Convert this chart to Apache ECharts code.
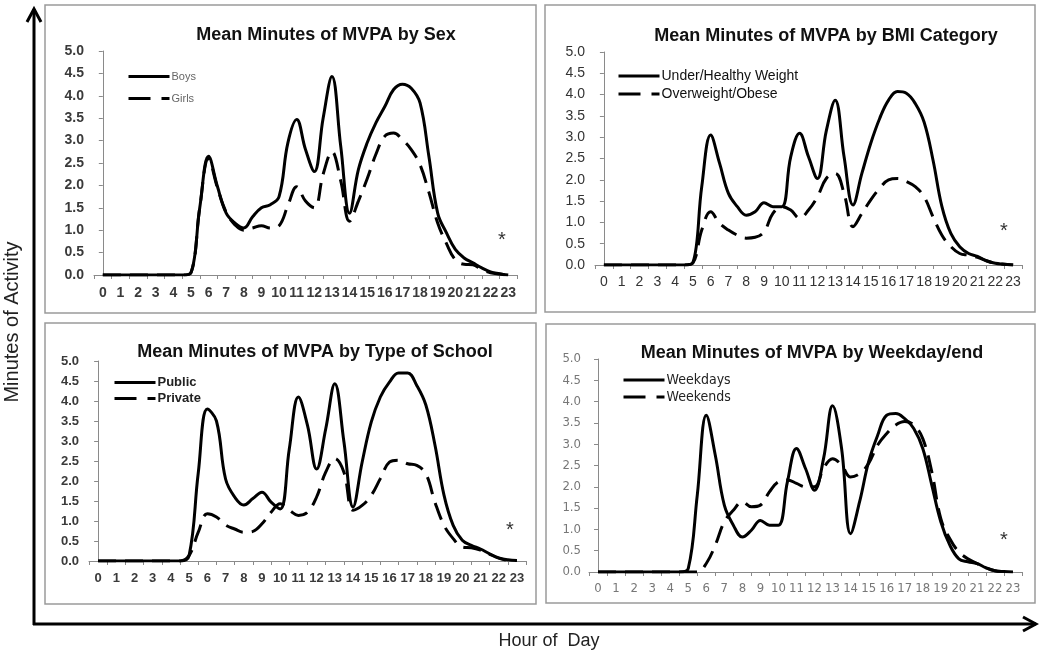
<!DOCTYPE html>
<html><head><meta charset="utf-8">
<script src="https://cdn.jsdelivr.net/npm/echarts@6/dist/echarts.min.js"></script>
<style>html,body{margin:0;padding:0;background:#fff}#c{width:1039px;height:655px}</style>
</head><body><div id="c"></div><script>
// ---- data ----
const hourLabels = ['0','1','2','3','4','5','6','7','8','9','10','11','12','13','14','15','16','17','18','19','20','21','22','23'];
const hours = [0,0.5,1,1.5,2,2.5,3,3.5,4,4.5,5,5.5,6,6.5,7,7.5,8,8.5,9,9.5,10,10.5,11,11.5,12,12.5,13,13.5,14,14.5,15,15.5,16,16.5,17,17.5,18,18.5,19,19.5,20,20.5,21,21.5,22,22.5,23];
const yTicks = ['0.0','0.5','1.0','1.5','2.0','2.5','3.0','3.5','4.0','4.5','5.0'];

const titles = ['Mean Minutes of MVPA by Sex','Mean Minutes of MVPA by BMI Category','Mean Minutes of MVPA by Type of School','Mean Minutes of MVPA by Weekday/end'];

const boys = [0,0,0,0,0,0,0,0,0,0, 0.05,1.5,2.65,1.98,1.38,1.16,1.05,1.3,1.5,1.57,1.75,2.95,3.47,2.8,2.31,3.5,4.43,2.87,1.38,2.35,2.95,3.4,3.76,4.14,4.26,4.17,3.84,2.65,1.38,0.94,0.57,0.38,0.27,0.16,0.07,0.03,0];
const girls = [0,0,0,0,0,0,0,0,0,0, 0.05,1.5,2.6,1.95,1.4,1.12,1.0,1.05,1.1,1.05,1.1,1.55,1.97,1.65,1.5,2.25,2.75,2.1,1.2,1.65,2.15,2.7,3.1,3.17,3.02,2.8,2.46,1.85,1.16,0.7,0.34,0.24,0.23,0.12,0.05,0.02,0];
const healthy = [0,0,0,0,0,0,0,0,0,0, 0.05,1.84,3.05,2.39,1.68,1.37,1.17,1.25,1.46,1.37,1.37,2.54,3.09,2.54,2.03,3.15,3.87,2.54,1.41,2.15,2.86,3.44,3.87,4.07,4.03,3.79,3.35,2.46,1.37,0.74,0.43,0.27,0.2,0.1,0.04,0.02,0];
const overweight = [0,0,0,0,0,0,0,0,0,0, 0.05,0.82,1.25,0.98,0.82,0.7,0.63,0.65,0.78,1.21,1.37,1.29,1.1,1.29,1.6,2.03,2.15,1.68,0.9,1.21,1.53,1.8,2.0,2.03,1.96,1.84,1.6,1.13,0.7,0.43,0.27,0.23,0.18,0.1,0.04,0.02,0];
const publicSch = [0,0,0,0,0,0,0,0,0,0, 0.14,2.2,3.8,3.5,2.05,1.6,1.4,1.56,1.72,1.47,1.3,2.8,4.1,3.39,2.3,3.3,4.43,2.98,1.35,2.47,3.47,4.1,4.47,4.7,4.7,4.39,3.9,2.9,1.64,0.89,0.52,0.39,0.3,0.18,0.08,0.03,0.01];
const privateSch = [0,0,0,0,0,0,0,0,0,0, 0.14,0.72,1.18,1.1,0.9,0.8,0.72,0.74,0.93,1.22,1.43,1.27,1.14,1.22,1.6,2.22,2.56,2.22,1.27,1.39,1.64,2.06,2.47,2.52,2.43,2.39,2.18,1.47,0.89,0.56,0.35,0.33,0.27,0.17,0.07,0.02,0.01];
const weekdays = [0,0,0,0,0,0,0,0,0,0, 0.08,1.8,3.68,2.74,1.57,1.1,0.82,0.98,1.21,1.1,1.1,2.12,2.9,2.43,1.92,2.66,3.9,2.9,0.9,1.65,2.59,3.21,3.68,3.72,3.6,3.37,2.9,2.04,1.18,0.63,0.31,0.24,0.2,0.1,0.03,0.01,0];
const weekends = [0,0,0,0,0,0,0,0,0,0,0,0, 0.2,0.63,1.18,1.45,1.65,1.53,1.57,1.88,2.12,2.16,2.08,2.0,2.0,2.43,2.66,2.51,2.23,2.31,2.55,2.98,3.25,3.45,3.53,3.45,3.13,2.35,1.25,0.78,0.47,0.31,0.2,0.1,0.03,0.01,0];

const seriesNames = [['Boys','Girls'],['Under/Healthy Weight','Overweight/Obese'],['Public','Private'],['Weekdays','Weekends']];
const seriesValues = [[boys,girls],[healthy,overweight],[publicSch,privateSch],[weekdays,weekends]];

// ---- layout / style ----
const narrow = "'Liberation Sans Narrow','DejaVu Sans Condensed',Arial,sans-serif";
const panels = [
  {grid:{left:94,top:51,width:423,height:224}, box:[45,5,491,308], title:[321,32], legend:{left:127,top:71,gap:11,size:11,color:'#666',weight:'normal',font:'Arial'}, ax:{size:14,weight:'bold',color:'#3a3a3a',font:'Arial',xm:11,ym:10}, star:[502,240]},
  {grid:{left:595,top:52,width:427,height:213}, box:[545,5,490,307], title:[821,33], legend:{left:617,top:69,gap:4,size:14,color:'#111',weight:'normal',font:'Arial'}, ax:{size:14,weight:'normal',color:'#333',font:'Arial',xm:10,ym:10}, star:[1004,231]},
  {grid:{left:89,top:361,width:437,height:200}, box:[45,323,491,281], title:[310,349], legend:{left:113,top:376,gap:3,size:13,color:'#222',weight:'bold',font:'Arial'}, ax:{size:13,weight:'bold',color:'#3a3a3a',font:'Arial',xm:11,ym:10}, star:[510,530]},
  {grid:{left:589,top:359,width:433,height:213}, box:[546,324,489,279], title:[807,350], legend:{left:622,top:373,gap:3,size:14,color:'#222',weight:'normal',font:narrow}, ax:{size:13,weight:'normal',color:'#777',font:narrow,xm:10,ym:8}, star:[1004,540]}
];

const grid = [], xAxis = [], yAxis = [], series = [], legend = [], title = [], graphic = [];
panels.forEach((p, i) => {
  grid.push(p.grid);
  const axLine = {show:true, lineStyle:{color:'#8a8a8a', width:1}};
  xAxis.push({type:'category', gridIndex:i, data:hourLabels, boundaryGap:true,
    axisLine:axLine, axisTick:{show:true, length:4, lineStyle:{color:'#8a8a8a'}},
    axisLabel:{interval:0, margin:p.ax.xm, fontSize:p.ax.size, fontWeight:p.ax.weight, color:p.ax.color, fontFamily:p.ax.font},
    splitLine:{show:false}});
  yAxis.push({type:'value', gridIndex:i, min:0, max:5, interval:0.5,
    axisLine:axLine, axisTick:{show:true, length:4, lineStyle:{color:'#8a8a8a'}},
    axisLabel:{margin:p.ax.ym, fontSize:p.ax.size, fontWeight:p.ax.weight, color:p.ax.color, fontFamily:p.ax.font,
      formatter:(v)=>yTicks[Math.round(v*2)]},
    splitLine:{show:false}});
  title.push({text:titles[i], left:p.title[0], top:p.title[1]-11, textAlign:'center',
    textStyle:{fontSize:18, fontWeight:'bold', color:'#111', fontFamily:'Arial'}});
  legend.push({orient:'vertical', left:p.legend.left, top:p.legend.top, itemWidth:41, itemHeight:12, itemGap:p.legend.gap,
    padding:0, selectedMode:false,
    data:[{name:seriesNames[i][0], lineStyle:{width:3}}, {name:seriesNames[i][1], lineStyle:{width:3, type:[22,11]}}],
    itemStyle:{opacity:0},
    textStyle:{fontSize:p.legend.size, color:p.legend.color, fontWeight:p.legend.weight, fontFamily:p.legend.font, padding:[0,0,0,-3]}});
  graphic.push({type:'rect', shape:{x:p.box[0], y:p.box[1], width:p.box[2], height:p.box[3]},
    style:{fill:'none', stroke:'#9a9a9a', lineWidth:1.5}, z:-1});
  graphic.push({type:'text', x:p.star[0], y:p.star[1], style:{text:'*', fontSize:20, fill:'#333', fontFamily:'Arial', textAlign:'center', textVerticalAlign:'middle'}});
});
// hidden value x axes for the data
panels.forEach((p, i) => {
  xAxis.push({type:'value', gridIndex:i, min:-0.5, max:23.5, show:false});
});
seriesValues.forEach((pair, i) => {
  pair.forEach((vals, k) => {
    series.push({name:seriesNames[i][k], type:'line', xAxisIndex:4+i, yAxisIndex:i,
      data:hours.map((h, j) => [h, vals[j]]), smooth:0.4, symbol:'none', silent:true,
      lineStyle:{color:'#000', width:3, type: k===0 ? 'solid' : [18,9]},
      itemStyle:{color:'#000'}});
  });
});
// big axes arrows and titles
graphic.push({type:'polyline', shape:{points:[[34,625],[34,9]]}, style:{stroke:'#000', lineWidth:3, fill:'none'}});
graphic.push({type:'polyline', shape:{points:[[27,22],[34,9],[41,22]]}, style:{stroke:'#000', lineWidth:3, fill:'none'}});
graphic.push({type:'polyline', shape:{points:[[33,624],[1036,624]]}, style:{stroke:'#000', lineWidth:3, fill:'none'}});
graphic.push({type:'polyline', shape:{points:[[1023,617],[1036,624],[1023,631]]}, style:{stroke:'#000', lineWidth:3, fill:'none'}});
graphic.push({type:'text', x:12, y:322, rotation:Math.PI/2, style:{text:'Minutes of Activity', fontSize:20, fill:'#222', fontFamily:'Arial', textAlign:'center', textVerticalAlign:'middle'}});
graphic.push({type:'text', x:549, y:641, style:{text:'Hour of  Day', fontSize:18, fill:'#222', fontFamily:'Arial', textAlign:'center', textVerticalAlign:'middle'}});

const chart = echarts.init(document.getElementById('c'), null, {renderer:'canvas'});
chart.setOption({animation:false, backgroundColor:'#fff', title, legend, grid, xAxis, yAxis, series, graphic});
</script></body></html>
